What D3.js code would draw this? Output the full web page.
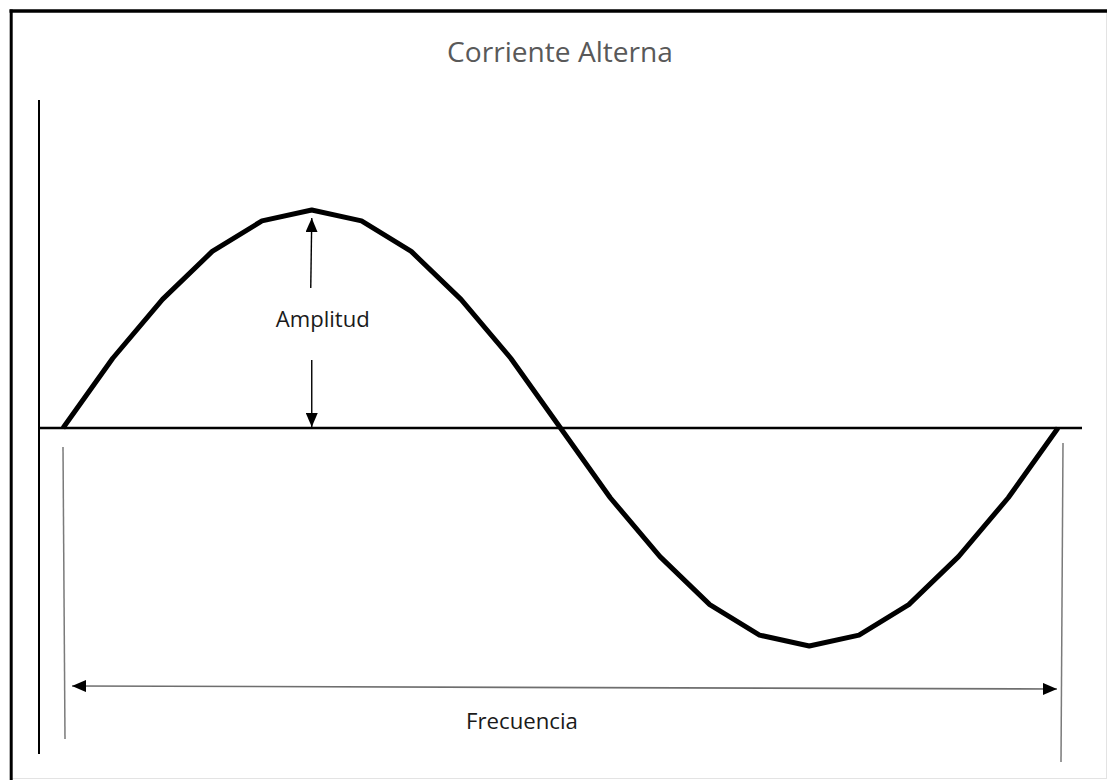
<!DOCTYPE html>
<html>
<head>
<meta charset="utf-8">
<script src="https://cdn.jsdelivr.net/npm/d3@7"></script>
<style>
  html, body { margin: 0; padding: 0; background: #fff; }
  svg { display: block; }
</style>
</head>
<body>
<svg id="chart" width="1107" height="780"></svg>
<script>
// ---- data ----
const title = "Corriente Alterna";
const phaseSteps = [0,1,2,3,4,5,6,7,8,9,10,11,12,13,14,15,16,17,18,19,20];
const current = [0, 0.32, 0.59, 0.81, 0.95, 1.0, 0.95, 0.81, 0.59, 0.32, 0,
                 -0.32, -0.59, -0.81, -0.95, -1.0, -0.95, -0.81, -0.59, -0.32, 0];
const amplitudeLabel = "Amplitud";
const frequencyLabel = "Frecuencia";

// ---- drawing ----
const svg = d3.select("#chart");
const W = 1107, H = 780;
const FONT = "'Open Sans', 'Noto Sans', sans-serif";

const x = d3.scaleLinear().domain([0, 20]).range([63, 1058]);
const y = d3.scaleLinear().domain([-1, 1]).range([646, 210]);

// frame
svg.append("rect").attr("x", 0).attr("y", 0).attr("width", W).attr("height", H).attr("fill", "#fff");
svg.append("line").attr("x1", 1106.5).attr("y1", 11).attr("x2", 1106.5).attr("y2", 778.5)
  .attr("stroke", "#e3e3e3").attr("stroke-width", 1);
svg.append("line").attr("x1", 11).attr("y1", 778.5).attr("x2", 1107).attr("y2", 778.5)
  .attr("stroke", "#e3e3e3").attr("stroke-width", 1);
svg.append("line").attr("x1", 9.5).attr("y1", 11).attr("x2", 1107).attr("y2", 11)
  .attr("stroke", "#000").attr("stroke-width", 3.5);
svg.append("line").attr("x1", 11.2).attr("y1", 9.5).attr("x2", 11.2).attr("y2", 780)
  .attr("stroke", "#000").attr("stroke-width", 3);

// title
function fitText(sel, target) {
  const w = sel.node().getComputedTextLength();
  const fs = parseFloat(sel.attr("font-size"));
  sel.attr("font-size", fs * target / w);
}
const t = svg.append("text").attr("x", 560).attr("y", 62).attr("text-anchor", "middle")
  .attr("font-family", FONT).attr("font-size", 24).attr("fill", "#595959").text(title);
fitText(t, 226);

// axes
svg.append("line").attr("x1", 39).attr("y1", 100).attr("x2", 39).attr("y2", 754)
  .attr("stroke", "#000").attr("stroke-width", 2);
svg.append("line").attr("x1", 39).attr("y1", y(0)).attr("x2", 1082).attr("y2", y(0))
  .attr("stroke", "#000").attr("stroke-width", 2.5);

// markers
const defs = svg.append("defs");
defs.append("marker").attr("id", "ah").attr("viewBox", "0 0 14 12")
  .attr("refX", 14).attr("refY", 6).attr("markerWidth", 14).attr("markerHeight", 12)
  .attr("markerUnits", "userSpaceOnUse").attr("orient", "auto-start-reverse")
  .append("path").attr("d", "M0,0 L14,6 L0,12 Z").attr("fill", "#000");

// sine curve
const line = d3.line().x((d, i) => x(phaseSteps[i])).y(d => y(d));
svg.append("path").datum(current).attr("d", line)
  .attr("fill", "none").attr("stroke", "#000").attr("stroke-width", 5)
  .attr("stroke-linejoin", "round").attr("stroke-linecap", "butt");

// amplitude arrows
const peakIdx = current.indexOf(d3.max(current));
const ax = x(phaseSteps[peakIdx]);
svg.append("line").attr("x1", ax - 1).attr("y1", 288).attr("x2", ax).attr("y2", y(1) + 8)
  .attr("stroke", "#000").attr("stroke-width", 1.4).attr("marker-end", "url(#ah)");
svg.append("line").attr("x1", ax).attr("y1", 360).attr("x2", ax).attr("y2", y(0) - 1)
  .attr("stroke", "#000").attr("stroke-width", 1.4).attr("marker-end", "url(#ah)");
const at = svg.append("text").attr("x", ax + 11).attr("y", 327).attr("text-anchor", "middle")
  .attr("font-family", FONT).attr("font-size", 18).attr("fill", "#1a1a1a").text(amplitudeLabel);
fitText(at, 94);

// frequency dimension lines
const x0 = x(phaseSteps[0]), x1 = x(phaseSteps[phaseSteps.length - 1]);
svg.append("line").attr("x1", x0).attr("y1", 447).attr("x2", x0 + 2).attr("y2", 739)
  .attr("stroke", "#7a7a7a").attr("stroke-width", 1.5);
svg.append("line").attr("x1", x1 + 5).attr("y1", 443).attr("x2", x1 + 3).attr("y2", 762)
  .attr("stroke", "#7a7a7a").attr("stroke-width", 1.5);
svg.append("line").attr("x1", x0 + 9).attr("y1", 686).attr("x2", x1 - 1).attr("y2", 689)
  .attr("stroke", "#6e6e6e").attr("stroke-width", 1.6)
  .attr("marker-start", "url(#ah)").attr("marker-end", "url(#ah)");
const ft = svg.append("text").attr("x", 522).attr("y", 729).attr("text-anchor", "middle")
  .attr("font-family", FONT).attr("font-size", 18).attr("fill", "#1a1a1a").text(frequencyLabel);
fitText(ft, 112);
</script>
</body>
</html>
